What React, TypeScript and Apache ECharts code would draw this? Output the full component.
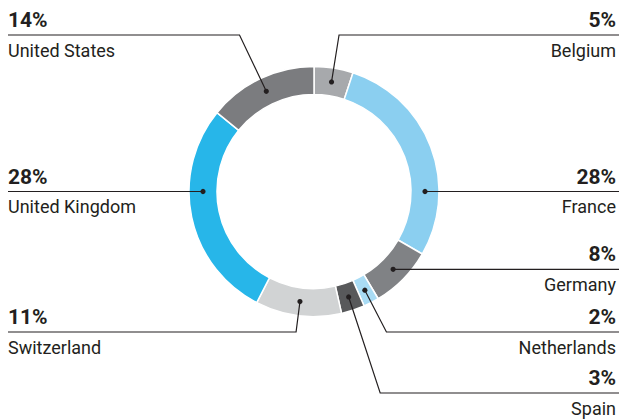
import React, { useEffect, useRef } from 'react';
import * as echarts from 'echarts';

// ---- data ----
const categories = ['Belgium', 'France', 'Germany', 'Netherlands', 'Spain', 'Switzerland', 'United Kingdom', 'United States'];
const shares = [5, 28, 8, 2, 3, 11, 28, 14];
const sliceColors = ['#a7a9ac', '#8bcff0', '#808285', '#a9dcf5', '#58595b', '#d1d3d4', '#27b6e9', '#7b7c7f'];

// ---- label layout (annotation placement, not data) ----
const labelSide = ['right', 'right', 'right', 'right', 'right', 'left', 'left', 'left'];
const labelRunY: (number | null)[] = [35, null, null, 332, 393, 332, null, 35];
const anchorDeg: (number | null)[] = [null, 90, null, null, null, null, 270, null];

const W = 619;
const H = 419;
const CX = 314;
const CY = 191.5;
const R_IN = 97;
const R_OUT = 125;
const R_DOT = 111;
const INK = '#231f20';
const FONT = 'Roboto, "Noto Sans", sans-serif';

function computeLeaders() {
  const total = shares.reduce((a, b) => a + b, 0);
  let cum = 0;
  return shares.map((v, i) => {
    const mid = ((cum + v / 2) / total) * 360;
    cum += v;
    const deg = anchorDeg[i] ?? mid;
    const rad = (deg * Math.PI) / 180;
    const ax = CX + R_DOT * Math.sin(rad);
    const ay = CY - R_DOT * Math.cos(rad);
    const ly = labelRunY[i] ?? ay;
    let ex = ax;
    if (labelRunY[i] != null) {
      const t = (ly - CY) / (ay - CY);
      ex = CX + (ax - CX) * t;
    }
    const endX = labelSide[i] === 'right' ? W : 8;
    return {
      anchor: [ax, ay],
      points: [[ax, ay], [ex, ly], [endX, ly]],
      textX: labelSide[i] === 'right' ? 616 : 8,
      textY: ly,
    };
  });
}

export default function App() {
  const ref = useRef<HTMLDivElement>(null);

  useEffect(() => {
    if (!ref.current) return;
    const chart = echarts.init(ref.current, null, { renderer: 'svg' });
    const leaders = computeLeaders();

    const rich = {
      pr: { fontFamily: FONT, fontWeight: 'bold', fontSize: 21, lineHeight: 30, color: INK, align: 'right' },
      nr: { fontFamily: FONT, fontSize: 18, lineHeight: 30, color: INK, align: 'right' },
      pl: { fontFamily: FONT, fontWeight: 'bold', fontSize: 21, lineHeight: 30, color: INK, align: 'left' },
      nl: { fontFamily: FONT, fontSize: 18, lineHeight: 30, color: INK, align: 'left' },
    };

    const leaderGraphics: any[] = [];
    leaders.forEach((l) => {
      leaderGraphics.push({
        type: 'polyline',
        z: 100,
        silent: true,
        shape: { points: l.points },
        style: { stroke: INK, lineWidth: 1.2, fill: null },
      });
      leaderGraphics.push({
        type: 'circle',
        z: 101,
        silent: true,
        shape: { cx: l.anchor[0], cy: l.anchor[1], r: 2.6 },
        style: { fill: INK },
      });
    });

    chart.setOption({
      animation: false,
      backgroundColor: '#ffffff',
      series: [
        {
          type: 'pie',
          center: [CX, CY],
          radius: [R_IN, R_OUT],
          startAngle: 90,
          clockwise: true,
          avoidLabelOverlap: false,
          silent: true,
          itemStyle: { borderColor: '#ffffff', borderWidth: 1.5 },
          label: {
            show: true,
            position: 'outside',
            formatter: (p: any) => {
              const s = labelSide[p.dataIndex] === 'right' ? 'r' : 'l';
              return `{p${s}|${p.value}%}\n{n${s}|${p.name}}`;
            },
            rich,
          },
          labelLine: { show: false },
          labelLayout: (params: any) => {
            const l = leaders[params.dataIndex];
            return {
              x: l.textX,
              y: l.textY,
              align: labelSide[params.dataIndex] === 'right' ? 'right' : 'left',
              verticalAlign: 'middle',
            };
          },
          data: categories.map((name, i) => ({
            name,
            value: shares[i],
            itemStyle: { color: sliceColors[i] },
          })),
        },
      ],
      graphic: leaderGraphics,
    });

    return () => chart.dispose();
  }, []);

  return (
    <div
      ref={ref}
      style={{ position: 'fixed', left: 0, top: 0, width: W, height: H, background: '#fff' }}
    />
  );
}
